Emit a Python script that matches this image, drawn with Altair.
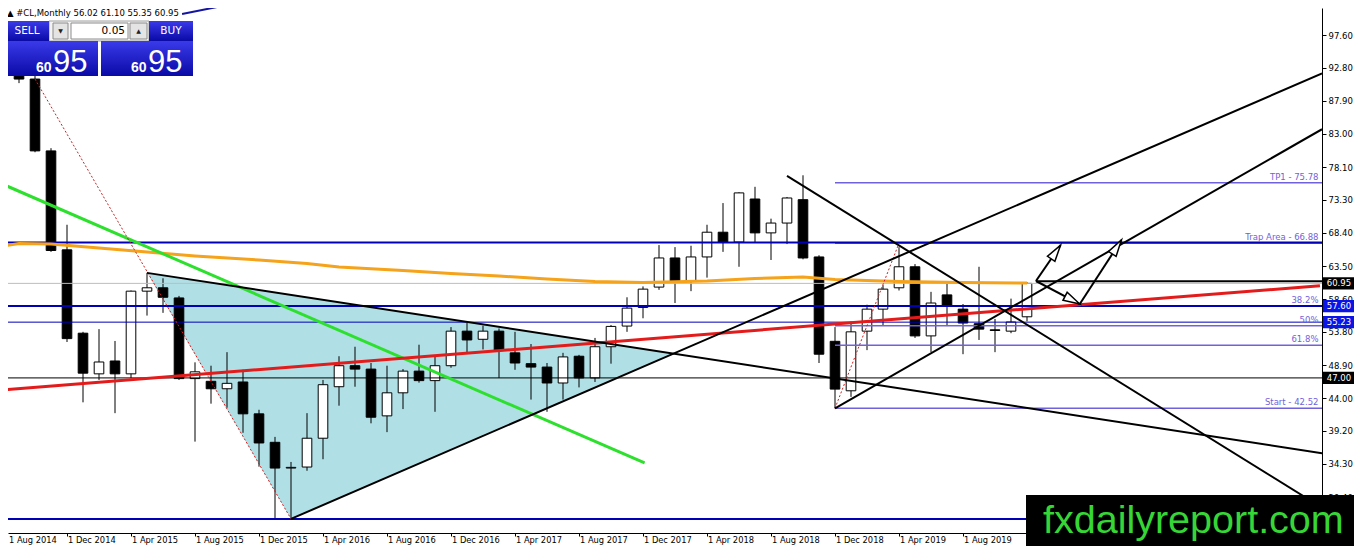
import math
import altair as alt
import pandas as pd

# ---------------- data ----------------
bar_index = list(range(65))          # 0 = Aug 2014 ... 64 = Dec 2019 (monthly bars)
opens = [97.9, 95.6, 91.1, 80.5, 65.9, 53.6, 47.6, 49.5, 47.6, 59.8,
         60.3, 58.8, 46.9, 46.5, 45.4, 46.4, 41.7, 37.5, 33.7, 33.85,
         38.1, 45.7, 48.8, 48.3, 41.4, 44.8, 48.0, 46.6, 48.8, 53.9,
         52.7, 53.9, 50.7, 49.1, 48.6, 46.25, 50.2, 47.0, 51.6, 54.65,
         57.4, 60.4, 64.7, 61.3, 64.85, 68.5, 67.05, 73.4, 68.4, 69.85,
         73.3, 64.85, 52.4, 45.1, 53.9, 57.15, 60.3, 63.4, 53.2, 59.25,
         57.15, 55.0, 54.1, 53.9, 56.02]
highs = [98.9, 95.9, 92.2, 80.9, 69.6, 53.8, 54.2, 52.45, 59.9, 62.5,
         61.7, 59.1, 49.3, 48.8, 50.8, 48.2, 42.3, 38.3, 34.6, 41.8,
         46.7, 50.2, 51.6, 49.2, 48.8, 48.3, 51.9, 50.1, 54.5, 55.1,
         54.7, 54.3, 53.8, 52.0, 49.2, 50.7, 50.4, 52.9, 54.8, 58.9,
         60.5, 66.6, 66.3, 66.5, 69.6, 72.8, 74.4, 75.2, 70.5, 73.7,
         76.9, 65.1, 54.5, 55.3, 57.8, 60.7, 66.3, 63.8, 59.7, 60.9,
         57.9, 63.4, 55.7, 58.7, 61.10]
lows = [92.5, 90.5, 80.3, 65.6, 52.3, 43.4, 46.7, 41.8, 47.0, 56.2,
        56.6, 46.7, 37.6, 43.2, 42.6, 38.9, 33.9, 26.3, 26.2, 33.3,
        35.0, 42.9, 45.7, 40.3, 39.0, 42.4, 46.3, 42.0, 48.5, 50.8,
        51.2, 47.0, 48.2, 43.8, 42.0, 43.8, 45.6, 46.4, 49.1, 53.8,
        55.8, 60.0, 58.05, 59.8, 61.8, 65.6, 63.4, 67.05, 64.4, 66.75,
        64.5, 49.2, 42.52, 44.2, 51.1, 54.8, 59.9, 52.9, 50.8, 54.65,
        50.5, 52.6, 50.8, 53.6, 55.35]
closes = [95.6, 91.1, 80.5, 65.8, 52.8, 47.7, 49.35, 47.6, 59.8, 60.3,
          58.9, 46.9, 47.9, 45.4, 46.2, 41.7, 37.4, 33.7, 33.8, 38.1,
          46.0, 48.8, 48.3, 41.2, 44.8, 48.0, 46.6, 48.8, 53.9, 52.6,
          53.9, 51.1, 49.2, 48.6, 46.25, 50.1, 47.0, 51.6, 54.6, 57.3,
          60.1, 64.7, 61.3, 64.85, 68.5, 67.05, 74.3, 68.4, 69.85, 73.55,
          64.7, 50.5, 45.35, 53.8, 57.15, 60.1, 63.4, 53.2, 58.05, 57.75,
          55.1, 54.2, 54.0, 55.25, 60.95]

x_tick_index = [0, 4, 8, 12, 16, 20, 24, 28, 32, 36, 40, 44, 48, 52, 56, 60]
x_tick_labels = ["1 Aug 2014", "1 Dec 2014", "1 Apr 2015", "1 Aug 2015", "1 Dec 2015",
                 "1 Apr 2016", "1 Aug 2016", "1 Dec 2016", "1 Apr 2017", "1 Aug 2017",
                 "1 Dec 2017", "1 Apr 2018", "1 Aug 2018", "1 Dec 2018", "1 Apr 2019",
                 "1 Aug 2019"]
price_ticks = [97.60, 92.80, 87.90, 83.00, 78.10, 73.30, 68.40, 63.50, 58.60,
               53.80, 48.90, 44.00, 39.20, 34.30, 29.40]

# moving average (orange)
ma_index = [-0.2, 1, 3, 6, 9, 12, 16, 19, 21, 25, 28, 31, 34, 37, 40, 44, 47, 50, 52, 56, 60, 64]
ma_values = [66.36, 66.83, 66.76, 66.17, 65.58, 64.99, 64.40, 63.87, 63.37, 62.85, 62.41,
             62.04, 61.60, 61.23, 61.08, 61.30, 61.67, 61.89, 61.52, 61.23, 61.08, 61.01]

# horizontal levels
blue_thick_levels = [67.0, 57.6, 26.18]
blue_thin_levels = [55.23]
bid_level = [60.95]
black_levels = [47.0]

# fibonacci object
fib_start_index = 52
fib_levels = [75.78, 66.88, 57.57, 54.70, 51.83, 42.52]
fib_labels = ["TP1 - 75.78", "Trap Area - 66.88", "38.2%", "50%", "61.8%", "Start - 42.52"]

# price tags on the scale
black_tags = [60.95, 47.00]
blue_tags = [57.60, 55.23]

# triangle (shaded)
tri_index = [9, 18, 41.9]
tri_price = [62.5, 26.2, 50.58]

# trend lines (black)
trend_x1 = [9, 18, 49, 52]
trend_y1 = [62.5, 26.2, 76.8, 42.52]
trend_x2 = [82.44, 82.44, 82.44, 82.44]
trend_y2 = [35.88, 91.93, 27.85, 83.7]

# green line, red regression line, red dotted lines
green_x = [-0.19, 40.1]
green_y = [75.76, 34.45]
red_x = [-0.19, 82.31]
red_y = [45.21, 60.6]
dot_x1 = [2, 52]
dot_y1 = [91.1, 42.52]
dot_x2 = [18, 56]
dot_y2 = [26.2, 66.88]

# short black level and arrows
short_level_start = 64.56
short_level = [61.25]
arrow_x1 = [64.56, 64.56, 67.3]
arrow_y1 = [61.3, 61.3, 57.9]
arrow_x2 = [66.1, 67.3, 69.9]
arrow_y2 = [66.6, 57.9, 67.35]

# small blue line at the top
top_line_x = [11.19, 15.56]
top_line_y = [100.7, 102.76]

# ---------------- geometry ----------------
W, H = 1314, 525
PAD_RIGHT, PAD_BOTTOM = 32, 13
PX_PER_BAR = 16.0
PX_PER_USD = 6.777
XMIN = 0.3125
XMAX = XMIN + W / PX_PER_BAR
YMAX = 97.6 + 27 / PX_PER_USD
YMIN = YMAX - H / PX_PER_USD
XLABEL_PRICE = 97.6 - 506 / PX_PER_USD

FONT = "DejaVu Sans"
BLUE = "#0000B4"
FIB = "#7062DC"

XS = alt.Scale(domain=[XMIN, XMAX], nice=False, zero=False)
YS = alt.Scale(domain=[YMIN, YMAX], nice=False, zero=False)
XAX = alt.Axis(values=x_tick_index[1:], labels=False, ticks=True, tickSize=3, tickColor="black",
               domain=True, domainColor="black", grid=False, title=None, zindex=0)
YAX = alt.Axis(orient="right", values=price_ticks, labelExpr="format(datum.value, '.2f')",
               labelFont=FONT, labelFontSize=8.5, labelColor="black", labelAlign="left",
               labelBaseline="middle", labelPadding=2, tickSize=4, tickColor="black",
               domain=True, domainColor="black", grid=False, title=None, zindex=0)


def X(f):
    return alt.X(f, type="quantitative", scale=XS, axis=XAX)


def Y(f):
    return alt.Y(f, type="quantitative", scale=YS, axis=YAX)


layers = []

# triangle fill
top_mid = tri_price[0] + (tri_price[2] - tri_price[0]) * (tri_index[1] - tri_index[0]) / (tri_index[2] - tri_index[0])
tri_df = pd.DataFrame({"x": tri_index,
                       "yb": tri_price,
                       "yt": [tri_price[0], top_mid, tri_price[2]]})
layers.append(alt.Chart(tri_df).mark_area(color="#B0E0E6", opacity=1, interpolate="linear")
              .encode(x=X("x"), y=Y("yb"), y2=alt.Y2("yt")))

# candles
cdf = pd.DataFrame({"i": bar_index, "o": opens, "h": highs, "l": lows, "c": closes})
layers.append(alt.Chart(cdf).mark_rule(color="black", strokeWidth=1, clip=True)
              .encode(x=X("i"), y=Y("l"), y2=alt.Y2("h")))
layers.append(alt.Chart(cdf).transform_calculate(lo="datum.i - 0.3", hi="datum.i + 0.3")
              .mark_rect(stroke="black", strokeWidth=1, clip=True)
              .encode(x=X("lo"), x2=alt.X2("hi"), y=Y("o"), y2=alt.Y2("c"),
                      fill=alt.condition("datum.c >= datum.o", alt.value("white"), alt.value("black"))))

# horizontal levels
layers.append(alt.Chart(pd.DataFrame({"p": bid_level})).mark_rule(color="#BDBDBD", strokeWidth=1)
              .encode(y=Y("p")))
layers.append(alt.Chart(pd.DataFrame({"p": black_levels})).mark_rule(color="black", strokeWidth=1)
              .encode(y=Y("p")))
layers.append(alt.Chart(pd.DataFrame({"p": blue_thin_levels})).mark_rule(color=BLUE, strokeWidth=1)
              .encode(y=Y("p")))

# fibonacci levels
fib_df = pd.DataFrame({"p": fib_levels, "label": fib_labels,
                       "s": [fib_start_index] * len(fib_levels), "e": [XMAX] * len(fib_levels),
                       "lx": [XMAX - 0.22] * len(fib_levels)})
layers.append(alt.Chart(fib_df).mark_rule(color=FIB, strokeWidth=1.5, clip=True)
              .encode(x=X("s"), x2=alt.X2("e"), y=Y("p")))
layers.append(alt.Chart(pd.DataFrame({"p": blue_thick_levels})).mark_rule(color=BLUE, strokeWidth=2)
              .encode(y=Y("p")))

# orange MA
layers.append(alt.Chart(pd.DataFrame({"i": ma_index, "v": ma_values}))
              .mark_line(color="#F5A31A", strokeWidth=3, clip=True)
              .encode(x=X("i"), y=Y("v")))

# green line
layers.append(alt.Chart(pd.DataFrame({"x1": [green_x[0]], "y1": [green_y[0]], "x2": [green_x[1]], "y2": [green_y[1]]}))
              .mark_rule(color="#2EE02E", strokeWidth=3, clip=True)
              .encode(x=X("x1"), y=Y("y1"), x2=alt.X2("x2"), y2=alt.Y2("y2")))

# red regression line
layers.append(alt.Chart(pd.DataFrame({"x1": [red_x[0]], "y1": [red_y[0]], "x2": [red_x[1]], "y2": [red_y[1]]}))
              .mark_rule(color="#E41B1B", strokeWidth=3, clip=True)
              .encode(x=X("x1"), y=Y("y1"), x2=alt.X2("x2"), y2=alt.Y2("y2")))

# red dotted lines
layers.append(alt.Chart(pd.DataFrame({"x1": dot_x1, "y1": dot_y1, "x2": dot_x2, "y2": dot_y2}))
              .mark_rule(color="#D21E1E", strokeWidth=1, strokeDash=[2, 2], clip=True)
              .encode(x=X("x1"), y=Y("y1"), x2=alt.X2("x2"), y2=alt.Y2("y2")))

# black trend lines
layers.append(alt.Chart(pd.DataFrame({"x1": trend_x1, "y1": trend_y1, "x2": trend_x2, "y2": trend_y2}))
              .mark_rule(color="black", strokeWidth=2, clip=True)
              .encode(x=X("x1"), y=Y("y1"), x2=alt.X2("x2"), y2=alt.Y2("y2")))

# short black level
layers.append(alt.Chart(pd.DataFrame({"s": [short_level_start], "e": [XMAX], "p": short_level}))
              .mark_rule(color="black", strokeWidth=2, clip=True)
              .encode(x=X("s"), x2=alt.X2("e"), y=Y("p")))

# top blue line
layers.append(alt.Chart(pd.DataFrame({"x1": [top_line_x[0]], "y1": [top_line_y[0]],
                                      "x2": [top_line_x[1]], "y2": [top_line_y[1]]}))
              .mark_rule(color="#1414A0", strokeWidth=2, clip=True)
              .encode(x=X("x1"), y=Y("y1"), x2=alt.X2("x2"), y2=alt.Y2("y2")))

# arrows
HEAD_R = 9.0
HEAD_PATH = "M0,-1L0.5,0.85L-0.5,0.85Z"
heads = []
for x1, y1, x2, y2 in zip(arrow_x1, arrow_y1, arrow_x2, arrow_y2):
    dxp = (x2 - x1) * PX_PER_BAR
    dyp = -(y2 - y1) * PX_PER_USD
    L = math.hypot(dxp, dyp)
    ux, uy = dxp / L, dyp / L
    heads.append({"hx": x2 - HEAD_R * ux / PX_PER_BAR,
                  "hy": y2 + HEAD_R * uy / PX_PER_USD,
                  "ang": math.degrees(math.atan2(ux, -uy)) % 360})
arrow_df = pd.DataFrame({"x1": arrow_x1, "y1": arrow_y1, "x2": arrow_x2, "y2": arrow_y2})
layers.append(alt.Chart(arrow_df).mark_rule(color="black", strokeWidth=2, clip=True)
              .encode(x=X("x1"), y=Y("y1"), x2=alt.X2("x2"), y2=alt.Y2("y2")))
layers.append(alt.Chart(pd.DataFrame(heads))
              .mark_point(shape=HEAD_PATH, size=HEAD_R * HEAD_R * 4, filled=True, fill="white",
                          stroke="black", strokeWidth=1.5, opacity=1)
              .encode(x=X("hx"), y=Y("hy"), angle=alt.Angle("ang:Q", scale=None)))

# fib labels
layers.append(alt.Chart(fib_df).mark_text(align="right", baseline="bottom", dy=-1, font=FONT,
                                          fontSize=8.5, color=FIB)
              .encode(x=X("lx"), y=Y("p"), text="label:N"))

# price tags on the scale
for tags, col in ((black_tags, "black"), (blue_tags, "#0A14E6")):
    tdf = pd.DataFrame({"p": tags, "t": [f"{v:.2f}" for v in tags]})
    tdf["lo"] = tdf["p"] - 0.9
    tdf["hi"] = tdf["p"] + 0.9
    tdf["x0"] = XMAX + 0.06
    tdf["x1"] = XMAX + 2.25
    tdf["tx"] = XMAX + 0.3
    layers.append(alt.Chart(tdf).mark_rect(color=col)
                  .encode(x=X("x0"), x2=alt.X2("x1"), y=Y("lo"), y2=alt.Y2("hi")))
    layers.append(alt.Chart(tdf).mark_text(align="left", baseline="middle", font=FONT,
                                           fontSize=8.5, color="white")
                  .encode(x=X("tx"), y=Y("p"), text="t:N"))

# x labels
xl_df = pd.DataFrame({"pos": [max(i, XMIN) + 0.06 for i in x_tick_index],
                      "py": [XLABEL_PRICE] * len(x_tick_index),
                      "label": x_tick_labels})
layers.append(alt.Chart(xl_df).mark_text(align="left", baseline="middle", font=FONT,
                                         fontSize=8.3, color="black")
              .encode(x=X("pos"), y=Y("py"), text="label:N"))

# ---------------- terminal panel (screen decoration) ----------------
one = pd.DataFrame({"k": [0]})


def px_rect(x, x2, y, y2, **mk):
    return alt.Chart(one).mark_rect(**mk).encode(x=alt.value(x), x2=alt.value(x2),
                                                y=alt.value(y), y2=alt.value(y2))


def px_text(s, x, y, **mk):
    return alt.Chart(one).mark_text(text=s, **mk).encode(x=alt.value(x), y=alt.value(y))


grad = alt.Gradient(gradient="linear",
                    stops=[alt.GradientStop(color="#3A3AEA", offset=0),
                           alt.GradientStop(color="#0A0AA6", offset=1)],
                    x1=0, x2=0, y1=0, y2=1)

header = f"\u25B2 #CL,Monthly  {opens[-1]:.2f} {highs[-1]:.2f} {lows[-1]:.2f} {closes[-1]:.2f}"
big_int, big_frac = f"{closes[-1]:.2f}".split(".")

layers += [
    px_text(header, -1, 4.5, align="left", baseline="middle", font=FONT, fontSize=8.5, color="black"),
    px_rect(41, 141, 13, 33, fill="#F4F4F4", stroke="#A0A0A0", strokeWidth=1),
    px_rect(-2, 41, 13, 33, fill=grad),
    px_rect(141, 185, 13, 33, fill=grad),
    px_rect(45, 60, 15, 31, fill="#E4E4E4", stroke="#8C8C8C", strokeWidth=1),
    px_rect(63, 120, 15, 31, fill="white", stroke="#8C8C8C", strokeWidth=1),
    px_rect(122, 139, 15, 31, fill="#E4E4E4", stroke="#8C8C8C", strokeWidth=1),
    px_rect(-2, 90, 33, 68, fill=grad),
    px_rect(93, 185, 33, 68, fill=grad),
    px_text("SELL", 19, 23, align="center", baseline="middle", font=FONT, fontSize=10.5, color="white"),
    px_text("BUY", 163, 23, align="center", baseline="middle", font=FONT, fontSize=10.5, color="white"),
    px_text("\u25BC", 52.5, 23, align="center", baseline="middle", font=FONT, fontSize=6, color="#222222"),
    px_text("\u25B2", 130.5, 23, align="center", baseline="middle", font=FONT, fontSize=6, color="#222222"),
    px_text("0.05", 117, 23, align="right", baseline="middle", font=FONT, fontSize=10.5, color="black"),
    px_text(big_int, 28, 63.5, align="left", baseline="alphabetic", font="Liberation Sans",
            fontSize=14, fontWeight="bold", color="white"),
    px_text(big_frac, 45, 63.5, align="left", baseline="alphabetic", font="Liberation Sans",
            fontSize=31, color="white"),
    px_text(big_int, 123, 63.5, align="left", baseline="alphabetic", font="Liberation Sans",
            fontSize=14, fontWeight="bold", color="white"),
    px_text(big_frac, 140, 63.5, align="left", baseline="alphabetic", font="Liberation Sans",
            fontSize=31, color="white"),
    # logo
    px_rect(1018, W + PAD_RIGHT, 487, H + PAD_BOTTOM, fill="black"),
    px_text("fxdailyreport.com", 1035, 525, align="left", baseline="alphabetic",
            font="Liberation Sans", fontSize=39.5, color="#36D636"),
]

chart = (alt.layer(*layers)
         .properties(width=W, height=H,
                     padding={"left": 0, "top": 0, "right": PAD_RIGHT, "bottom": PAD_BOTTOM},
                     autosize=alt.AutoSizeParams(type="none"),
                     background="white")
         .configure_view(stroke=None))

chart.save("out.html", embed_options={"renderer": "svg", "actions": False})
